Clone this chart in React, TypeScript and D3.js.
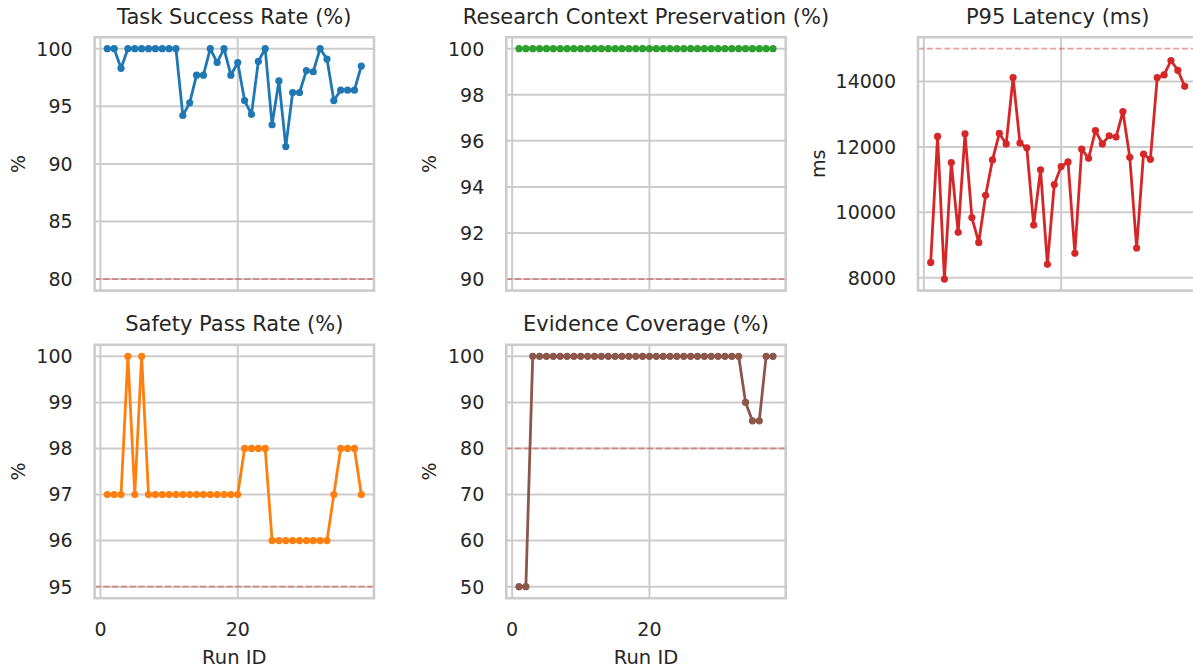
import React, { useEffect, useRef } from 'react';
import * as d3 from 'd3';

// run ids on the x axis
const runIds = [1, 2, 3, 4, 5, 6, 7, 8, 9, 10, 11, 12, 13, 14, 15, 16, 17, 18, 19, 20,
  21, 22, 23, 24, 25, 26, 27, 28, 29, 30, 31, 32, 33, 34, 35, 36, 37, 38];

const taskSuccess = [100, 100, 98.3, 100, 100, 100, 100, 100, 100, 100, 100, 94.2, 95.3, 97.7, 97.7, 100,
  98.8, 100, 97.7, 98.8, 95.5, 94.3, 98.9, 100, 93.4, 97.2, 91.5, 96.2, 96.2, 98.1, 98.0, 100, 99.1, 95.5,
  96.4, 96.4, 96.4, 98.5];

const contextPreservation = [100, 100, 100, 100, 100, 100, 100, 100, 100, 100, 100, 100, 100, 100, 100, 100,
  100, 100, 100, 100, 100, 100, 100, 100, 100, 100, 100, 100, 100, 100, 100, 100, 100, 100, 100, 100, 100, 100];

const p95Latency = [8470, 12320, 7960, 11520, 9390, 12400, 9840, 9080, 10520, 11600, 12410, 12090, 14120,
  12120, 11970, 9610, 11300, 8410, 10850, 11400, 11540, 8750, 11930, 11650, 12500, 12090, 12340, 12300,
  13080, 11680, 8910, 11780, 11620, 14120, 14200, 14640, 14340, 13850];

const safetyPass = [97, 97, 97, 100, 97, 100, 97, 97, 97, 97, 97, 97, 97, 97, 97, 97, 97, 97, 97, 97,
  98, 98, 98, 98, 96, 96, 96, 96, 96, 96, 96, 96, 96, 97, 98, 98, 98, 97];

const evidenceCoverage = [50, 50, 100, 100, 100, 100, 100, 100, 100, 100, 100, 100, 100, 100, 100, 100,
  100, 100, 100, 100, 100, 100, 100, 100, 100, 100, 100, 100, 100, 100, 100, 100, 100, 90, 86, 86, 100, 100];

const xTicks = [0, 20, 40];
const taskTicks = [80, 85, 90, 95, 100];
const contextTicks = [90, 92, 94, 96, 98, 100];
const latencyTicks = [8000, 10000, 12000, 14000];
const safetyTicks = [95, 96, 97, 98, 99, 100];
const evidenceTicks = [50, 60, 70, 80, 90, 100];

const panels = [
  { title: 'Task Success Rate (%)', values: taskSuccess, color: '#1f77b4', threshold: 80, yTicks: taskTicks, ylabel: '%', col: 0, row: 0 },
  { title: 'Research Context Preservation (%)', values: contextPreservation, color: '#2ca02c', threshold: 90, yTicks: contextTicks, ylabel: '%', col: 1, row: 0 },
  { title: 'P95 Latency (ms)', values: p95Latency, color: '#d62728', threshold: 15000, yTicks: latencyTicks, ylabel: 'ms', col: 2, row: 0 },
  { title: 'Safety Pass Rate (%)', values: safetyPass, color: '#ff7f0e', threshold: 95, yTicks: safetyTicks, ylabel: '%', col: 0, row: 1 },
  { title: 'Evidence Coverage (%)', values: evidenceCoverage, color: '#8c564b', threshold: 80, yTicks: evidenceTicks, ylabel: '%', col: 1, row: 1 },
];

const WIDTH = 1193;
const HEIGHT = 669;
const colX = [94.6, 506.3, 918];
const rowY = [37.2, 344.8];
const boxW = 279.4;
const boxH = 253.4;
const FONT = 'DejaVu Sans, sans-serif';
const TEXT = '#262626';
const GRID = '#cccccc';

export default function App() {
  const svgRef = useRef<SVGSVGElement | null>(null);

  useEffect(() => {
    if (!svgRef.current) return;
    const svg = d3.select(svgRef.current);
    svg.selectAll('*').remove();

    const xMin = d3.min(runIds)!;
    const xMax = d3.max(runIds)!;
    const xPad = (xMax - xMin) * 0.05;

    panels.forEach((p) => {
      const left = colX[p.col];
      const top = rowY[p.row];
      const lo = Math.min(d3.min(p.values)!, p.threshold);
      const hi = Math.max(d3.max(p.values)!, p.threshold);
      const yPad = (hi - lo) * 0.05;

      const x = d3.scaleLinear().domain([xMin - xPad, xMax + xPad]).range([left, left + boxW]);
      const y = d3.scaleLinear().domain([lo - yPad, hi + yPad]).range([top + boxH, top]);
      const g = svg.append('g');

      // grid
      g.selectAll('line.hgrid')
        .data(p.yTicks)
        .join('line')
        .attr('x1', left).attr('x2', left + boxW)
        .attr('y1', (d) => y(d)).attr('y2', (d) => y(d))
        .attr('stroke', GRID).attr('stroke-width', 2);

      const xt = xTicks.filter((d) => d >= x.domain()[0] && d <= x.domain()[1]);
      g.selectAll('line.vgrid')
        .data(xt)
        .join('line')
        .attr('x1', (d) => x(d)).attr('x2', (d) => x(d))
        .attr('y1', top).attr('y2', top + boxH)
        .attr('stroke', GRID).attr('stroke-width', 2);

      // threshold
      g.append('line')
        .attr('x1', left).attr('x2', left + boxW)
        .attr('y1', y(p.threshold)).attr('y2', y(p.threshold))
        .attr('stroke', '#d62728').attr('stroke-opacity', 0.45)
        .attr('stroke-width', 1.8).attr('stroke-dasharray', '6,2.8');

      // series
      const line = d3.line<number>()
        .x((_, i) => x(runIds[i]))
        .y((d) => y(d));
      g.append('path')
        .datum(p.values)
        .attr('fill', 'none')
        .attr('stroke', p.color)
        .attr('stroke-width', 2.8)
        .attr('stroke-linejoin', 'round')
        .attr('d', line);
      g.selectAll('circle')
        .data(p.values)
        .join('circle')
        .attr('cx', (_, i) => x(runIds[i]))
        .attr('cy', (d) => y(d))
        .attr('r', 3.6)
        .attr('fill', p.color);

      // spines
      g.append('rect')
        .attr('x', left).attr('y', top)
        .attr('width', boxW).attr('height', boxH)
        .attr('fill', 'none').attr('stroke', GRID).attr('stroke-width', 2.6);

      // y tick labels
      g.selectAll('text.ytick')
        .data(p.yTicks)
        .join('text')
        .attr('x', left - 22)
        .attr('y', (d) => y(d))
        .attr('dy', '0.36em')
        .attr('text-anchor', 'end')
        .attr('font-family', FONT).attr('font-size', 19).attr('fill', TEXT)
        .text((d) => String(d));

      // y label
      const widest = d3.max(p.yTicks, (d) => String(d).length)!;
      const labelX = left - 22 - widest * 11.7 - 12.8;
      g.append('text')
        .attr('transform', `translate(${labelX},${top + boxH / 2}) rotate(-90)`)
        .attr('text-anchor', 'middle')
        .attr('font-family', FONT).attr('font-size', 19).attr('fill', TEXT)
        .text(p.ylabel);

      // title
      g.append('text')
        .attr('x', left + boxW / 2)
        .attr('y', top - 13.7)
        .attr('text-anchor', 'middle')
        .attr('font-family', FONT).attr('font-size', 21).attr('fill', TEXT)
        .text(p.title);

      // x ticks and label only on bottom row
      if (p.row === 1) {
        g.selectAll('text.xtick')
          .data(xt)
          .join('text')
          .attr('x', (d) => x(d))
          .attr('y', top + boxH + 37.8)
          .attr('text-anchor', 'middle')
          .attr('font-family', FONT).attr('font-size', 19).attr('fill', TEXT)
          .text((d) => String(d));
        g.append('text')
          .attr('x', left + boxW / 2)
          .attr('y', top + boxH + 66)
          .attr('text-anchor', 'middle')
          .attr('font-family', FONT).attr('font-size', 19.5).attr('fill', TEXT)
          .text('Run ID');
      }
    });
  }, []);

  return (
    <div style={{ position: 'absolute', left: 0, top: 0 }}>
      <svg ref={svgRef} width={WIDTH} height={HEIGHT} style={{ display: 'block', background: '#ffffff' }} />
    </div>
  );
}
